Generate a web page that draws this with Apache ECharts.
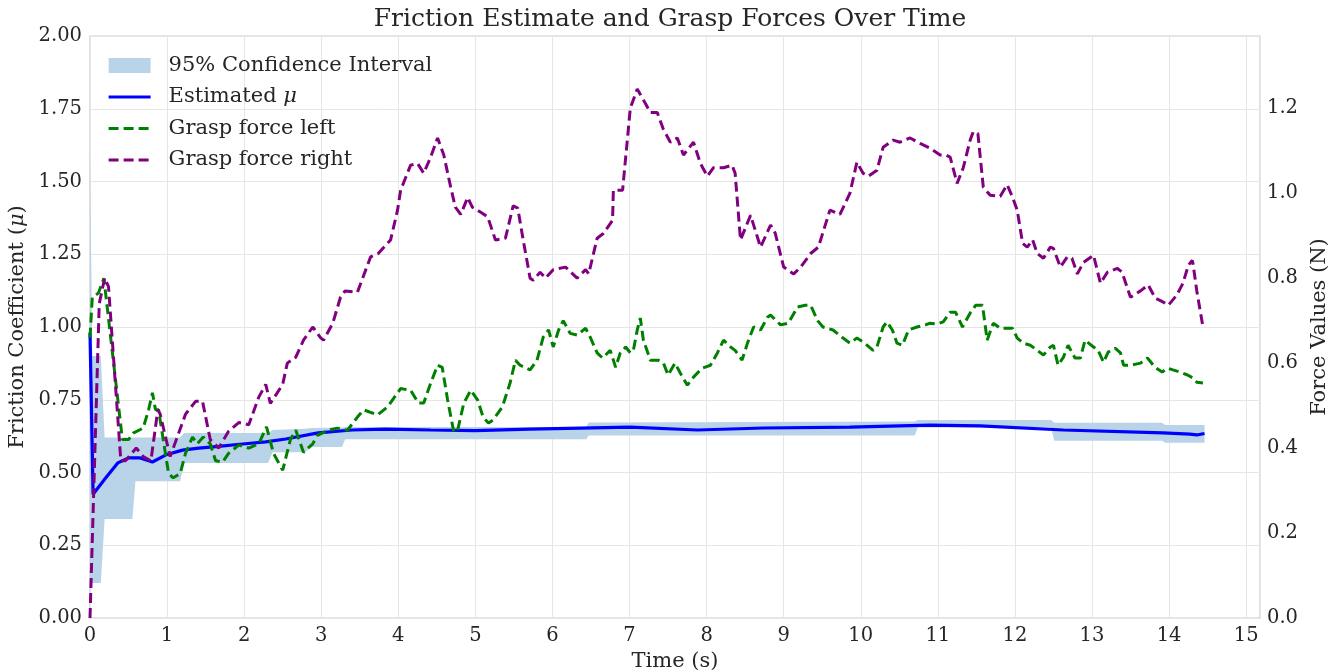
<!DOCTYPE html>
<html><head><meta charset="utf-8">
<script src="https://cdn.jsdelivr.net/npm/echarts@6/dist/echarts.min.js"></script>
<style>html,body{margin:0;padding:0;background:#fff}#c{width:1340px;height:672px}</style>
</head><body><div id="c"></div><script>
// ---- data ----
const timeMu = [0.00,0.04,0.20,0.36,0.50,0.65,0.81,0.98,1.20,1.41,1.67,1.98,2.28,2.54,2.96,3.40,3.83,4.42,5.00,5.71,7.01,7.88,8.74,9.86,10.90,11.55,12.63,13.92,14.27,14.36,14.46];
const muValues = [0.98,0.425,0.48,0.533,0.55,0.55,0.536,0.56,0.577,0.584,0.59,0.598,0.605,0.615,0.636,0.646,0.649,0.646,0.644,0.649,0.656,0.646,0.653,0.656,0.663,0.66,0.646,0.636,0.632,0.629,0.634];

const timeCI = [0.00,0.03,0.14,0.19,0.55,0.59,1.17,1.22,2.31,2.37,2.79,2.88,3.27,3.31,6.44,6.47,10.70,10.74,12.47,12.51,13.91,13.95,14.46];
const ciLower = [0.12,0.12,0.12,0.34,0.34,0.47,0.47,0.533,0.533,0.57,0.57,0.588,0.588,0.614,0.614,0.627,0.627,0.655,0.655,0.609,0.609,0.602,0.602];
const ciUpper = [1.60,0.90,0.90,0.62,0.62,0.62,0.62,0.636,0.636,0.646,0.65,0.653,0.655,0.656,0.656,0.672,0.675,0.68,0.68,0.671,0.671,0.663,0.663];

const timeLeft = [0.00,0.03,0.11,0.18,0.42,0.50,0.56,0.69,0.76,0.81,0.85,0.89,0.95,1.02,1.08,1.17,1.24,1.33,1.39,1.47,1.56,1.63,1.72,1.80,1.93,2.06,2.19,2.29,2.38,2.50,2.60,2.67,2.77,2.89,2.95,3.09,3.21,3.34,3.47,3.55,3.73,3.86,4.03,4.16,4.26,4.33,4.42,4.51,4.57,4.64,4.72,4.77,4.85,4.94,5.03,5.10,5.17,5.23,5.35,5.45,5.52,5.58,5.71,5.80,5.88,5.95,6.01,6.08,6.14,6.23,6.32,6.43,6.49,6.58,6.65,6.75,6.82,6.88,6.95,7.01,7.05,7.10,7.14,7.18,7.27,7.37,7.44,7.50,7.59,7.66,7.75,7.83,7.94,8.05,8.14,8.22,8.31,8.37,8.46,8.53,8.61,8.70,8.79,8.83,8.96,9.06,9.18,9.28,9.35,9.44,9.51,9.64,9.77,9.86,9.95,10.03,10.16,10.21,10.29,10.34,10.41,10.47,10.54,10.62,10.73,10.84,10.90,10.99,11.07,11.16,11.23,11.32,11.42,11.49,11.58,11.64,11.72,11.81,11.90,11.97,12.03,12.11,12.20,12.29,12.37,12.46,12.50,12.56,12.63,12.69,12.78,12.85,12.91,13.02,13.08,13.15,13.21,13.30,13.37,13.41,13.50,13.63,13.72,13.82,13.91,13.98,14.05,14.14,14.24,14.31,14.36,14.44];
const forceLeft = [0.66,0.755,0.765,0.80,0.42,0.42,0.435,0.447,0.49,0.53,0.49,0.49,0.42,0.34,0.33,0.34,0.388,0.426,0.41,0.426,0.41,0.37,0.367,0.388,0.407,0.40,0.41,0.45,0.388,0.348,0.42,0.442,0.39,0.41,0.43,0.442,0.447,0.442,0.473,0.49,0.478,0.497,0.54,0.536,0.506,0.506,0.553,0.595,0.59,0.513,0.438,0.442,0.506,0.536,0.513,0.473,0.459,0.466,0.497,0.553,0.607,0.595,0.584,0.607,0.661,0.678,0.638,0.678,0.70,0.67,0.666,0.682,0.661,0.624,0.612,0.63,0.59,0.624,0.638,0.624,0.63,0.678,0.706,0.654,0.607,0.607,0.60,0.572,0.60,0.576,0.548,0.567,0.588,0.595,0.624,0.654,0.638,0.63,0.607,0.647,0.685,0.678,0.708,0.713,0.69,0.694,0.732,0.736,0.736,0.70,0.685,0.678,0.659,0.647,0.659,0.65,0.63,0.638,0.685,0.697,0.678,0.647,0.642,0.678,0.685,0.69,0.694,0.692,0.697,0.72,0.72,0.685,0.718,0.736,0.736,0.654,0.694,0.682,0.682,0.682,0.659,0.647,0.642,0.63,0.619,0.638,0.642,0.595,0.614,0.642,0.612,0.612,0.654,0.638,0.63,0.602,0.626,0.635,0.624,0.595,0.595,0.60,0.612,0.59,0.579,0.588,0.584,0.579,0.572,0.565,0.555,0.553];

const timeRight = [0.00,0.12,0.19,0.24,0.40,0.46,0.60,0.69,0.79,0.88,0.91,1.04,1.24,1.37,1.46,1.56,1.67,1.80,1.93,2.06,2.19,2.28,2.34,2.50,2.56,2.67,2.77,2.89,2.99,3.03,3.15,3.25,3.31,3.47,3.64,3.74,3.90,3.99,4.03,4.16,4.25,4.33,4.42,4.51,4.59,4.68,4.74,4.81,4.90,4.96,5.07,5.16,5.26,5.39,5.49,5.55,5.62,5.71,5.75,5.84,5.91,6.01,6.17,6.32,6.43,6.47,6.58,6.66,6.78,6.79,6.91,7.01,7.10,7.21,7.27,7.36,7.44,7.53,7.62,7.70,7.83,7.92,8.01,8.09,8.22,8.33,8.37,8.44,8.57,8.70,8.83,8.89,9.00,9.13,9.22,9.35,9.45,9.60,9.73,9.86,9.95,10.03,10.10,10.21,10.29,10.42,10.51,10.64,10.77,10.90,11.03,11.10,11.16,11.25,11.33,11.42,11.46,11.52,11.59,11.68,11.81,11.90,11.97,12.03,12.10,12.16,12.23,12.29,12.37,12.46,12.50,12.59,12.68,12.74,12.81,12.89,13.02,13.11,13.20,13.33,13.39,13.50,13.63,13.73,13.82,13.92,13.99,14.10,14.18,14.25,14.30,14.31,14.36,14.44];
const forceRight = [0.00,0.74,0.80,0.78,0.37,0.37,0.40,0.38,0.37,0.49,0.48,0.38,0.48,0.51,0.51,0.42,0.40,0.44,0.46,0.455,0.52,0.55,0.505,0.55,0.60,0.614,0.654,0.685,0.66,0.654,0.694,0.755,0.77,0.767,0.85,0.858,0.89,0.96,1.007,1.066,1.07,1.047,1.085,1.13,1.09,1.014,0.967,0.95,0.99,0.967,0.955,0.944,0.89,0.894,0.97,0.965,0.89,0.80,0.795,0.814,0.80,0.82,0.826,0.80,0.82,0.81,0.894,0.905,0.936,1.007,1.007,1.20,1.245,1.21,1.19,1.19,1.15,1.12,1.13,1.09,1.12,1.07,1.04,1.06,1.06,1.066,1.047,0.89,0.948,0.873,0.925,0.906,0.826,0.81,0.826,0.858,0.873,0.96,0.95,1.0,1.073,1.047,1.04,1.054,1.108,1.125,1.12,1.13,1.117,1.106,1.09,1.09,1.085,1.023,1.06,1.125,1.145,1.14,1.014,0.995,0.993,1.02,0.99,0.96,0.882,0.873,0.89,0.858,0.847,0.873,0.87,0.826,0.85,0.847,0.81,0.837,0.854,0.788,0.814,0.823,0.814,0.755,0.77,0.784,0.753,0.744,0.736,0.76,0.788,0.83,0.842,0.835,0.77,0.685];

const legendNames = ['95% Confidence Interval', 'Estimated μ', 'Grasp force left', 'Grasp force right'];

// ---- chart ----
const FONT = 'DejaVu Serif';
const TXT = '#262626';
const zip = (xs, ys) => xs.map((x, i) => [x, ys[i]]);
const chart = echarts.init(document.getElementById('c'), null, {renderer: 'canvas'});

chart.setOption({
  animation: false,
  backgroundColor: '#ffffff',
  title: {
    text: 'Friction Estimate and Grasp Forces Over Time',
    left: 'center', top: 7, padding: 0,
    textStyle: {fontFamily: FONT, fontSize: 25, fontWeight: 'normal', color: TXT}
  },
  grid: {left: 90, right: 80, top: 36, bottom: 54, show: true, borderColor: '#cccccc', borderWidth: 1.25,
    containLabel: false, outerBoundsMode: 'none'},
  legend: {
    orient: 'vertical', left: 107, top: 55, padding: 0,
    itemWidth: 42, itemHeight: 15, itemGap: 10.5,
    data: [
      {name: legendNames[0], icon: 'rect', itemStyle: {color: '#b9d4e8', borderWidth: 0}},
      {name: legendNames[1], itemStyle: {opacity: 0}, lineStyle: {width: 3.2}},
      {name: legendNames[2], itemStyle: {opacity: 0}, lineStyle: {width: 3.2}},
      {name: legendNames[3], itemStyle: {opacity: 0}, lineStyle: {width: 3.2}}
    ],
    formatter: n => n === 'Estimated μ' ? 'Estimated {i|μ}' : n,
    textStyle: {
      fontFamily: FONT, fontSize: 21, color: TXT, padding: [0, 0, 0, 13],
      rich: {i: {fontFamily: FONT, fontSize: 21, fontStyle: 'italic', color: TXT}}
    }
  },
  xAxis: {
    type: 'value', min: 0, max: 15.18, interval: 1,
    name: 'Time (s)', nameLocation: 'middle', nameGap: 31,
    nameTextStyle: {fontFamily: FONT, fontSize: 21, color: TXT},
    axisLine: {show: false}, axisTick: {show: false},
    axisLabel: {
      formatter: v => Math.abs(v - Math.round(v)) < 1e-6 ? String(Math.round(v)) : '',
      fontFamily: FONT, fontSize: 19.5, color: TXT, margin: 8
    },
    splitLine: {show: true, lineStyle: {color: '#e6e6e6', width: 1}}
  },
  yAxis: [{
    type: 'value', min: 0, max: 2, interval: 0.25,
    name: 'Friction Coefficient ({i|μ})', nameLocation: 'middle', nameGap: 61, nameRotate: 90,
    nameTextStyle: {fontFamily: FONT, fontSize: 21, color: TXT,
      rich: {i: {fontFamily: FONT, fontSize: 21, fontStyle: 'italic', color: TXT}}},
    axisLine: {show: false}, axisTick: {show: false},
    axisLabel: {formatter: v => v.toFixed(2), fontFamily: FONT, fontSize: 19.5, color: TXT, margin: 8},
    splitLine: {show: true, lineStyle: {color: '#e6e6e6', width: 1}}
  }, {
    type: 'value', min: 0, max: 1.37, interval: 0.2, position: 'right',
    name: 'Force Values (N)', nameLocation: 'middle', nameGap: 44, nameRotate: 90,
    nameTextStyle: {fontFamily: FONT, fontSize: 21, color: TXT},
    axisLine: {show: false}, axisTick: {show: false},
    axisLabel: {
      formatter: v => Math.abs(v * 5 - Math.round(v * 5)) < 1e-6 ? v.toFixed(1) : '',
      fontFamily: FONT, fontSize: 19.5, color: TXT, margin: 7
    },
    splitLine: {show: false}
  }],
  series: [
    {
      name: legendNames[0], type: 'custom', coordinateSystem: 'cartesian2d',
      xAxisIndex: 0, yAxisIndex: 0, silent: true, z: 1,
      itemStyle: {color: '#b9d4e8'},
      data: [[timeCI[0], ciLower[0]]],
      renderItem: (params, api) => {
        const pts = timeCI.map((t, i) => api.coord([t, ciUpper[i]]));
        for (let i = timeCI.length - 1; i >= 0; i--) pts.push(api.coord([timeCI[i], ciLower[i]]));
        return {type: 'polygon', shape: {points: pts}, style: {fill: '#b9d4e8'}};
      }
    },
    {
      name: legendNames[1], type: 'line', xAxisIndex: 0, yAxisIndex: 0, z: 3,
      data: zip(timeMu, muValues), showSymbol: false, symbol: 'none',
      color: '#0000ff', lineStyle: {color: '#0000ff', width: 3.2}
    },
    {
      name: legendNames[2], type: 'line', xAxisIndex: 0, yAxisIndex: 1, z: 4,
      data: zip(timeLeft, forceLeft), showSymbol: false, symbol: 'none',
      color: '#008000', lineStyle: {color: '#008000', width: 3, type: [10, 5]}
    },
    {
      name: legendNames[3], type: 'line', xAxisIndex: 0, yAxisIndex: 1, z: 5,
      data: zip(timeRight, forceRight), showSymbol: false, symbol: 'none',
      color: '#800080', lineStyle: {color: '#800080', width: 3, type: [10, 5]}
    }
  ]
});
</script></body></html>
